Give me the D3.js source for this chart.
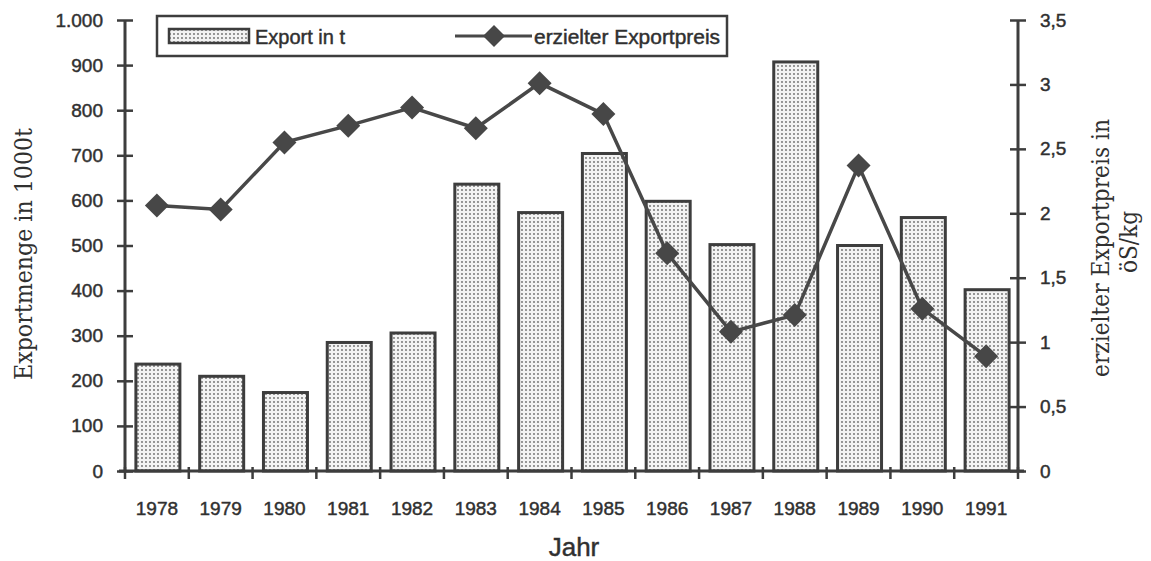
<!DOCTYPE html>
<html><head><meta charset="utf-8">
<script src="https://cdn.jsdelivr.net/npm/d3@7/dist/d3.min.js"></script>
<style>body{margin:0;background:#fff}svg{display:block}</style>
</head><body>
<svg id="c" width="1151" height="561"></svg>
<script>
const years = ["1978","1979","1980","1981","1982","1983","1984","1985","1986","1987","1988","1989","1990","1991"];
const exportMenge = [237, 210, 174, 285, 306, 636, 573, 704, 598, 502, 907, 500, 562, 402];
const exportPreis = [2.06, 2.03, 2.55, 2.68, 2.82, 2.66, 3.01, 2.77, 1.69, 1.08, 1.21, 2.37, 1.26, 0.89];
const leftTicks = [0,100,200,300,400,500,600,700,800,900,1000];
const leftTickLabels = ["0","100","200","300","400","500","600","700","800","900","1.000"];
const rightTicks = [0,0.5,1,1.5,2,2.5,3,3.5];
const rightTickLabels = ["0","0,5","1","1,5","2","2,5","3","3,5"];

const svg = d3.select("#c");
const ink = "#3d3d3d";
const txt = "#303030";
const sans = "Liberation Sans, Arial, sans-serif";
const serif = "DejaVu Serif, serif";
const L = 125, R = 1018, T = 20, B = 471;

const defs = svg.append("defs");
const pat = defs.append("pattern").attr("id","dots").attr("patternUnits","userSpaceOnUse")
  .attr("width",4).attr("height",4);
pat.append("rect").attr("width",4).attr("height",4).attr("fill","#f3f3f3");
pat.append("circle").attr("cx",2).attr("cy",2).attr("r",0.9).attr("fill","#6a6a6a");

const x = d3.scaleBand().domain(years).range([L,R]).padding(0);
const y = d3.scaleLinear().domain([0,1000]).range([B,T]);
const y2 = d3.scaleLinear().domain([0,3.5]).range([B,T]);
const bw = 44;

function styleText(sel, size) {
  sel.attr("font-family",sans).attr("font-size",size).attr("fill",txt)
     .attr("stroke",txt).attr("stroke-width",0.45);
}

// bars
svg.append("g").selectAll("rect").data(years).join("rect")
  .attr("x", (d)=>x(d)+(x.bandwidth()-bw)/2+1)
  .attr("y", (d,i)=>y(exportMenge[i]))
  .attr("width", bw)
  .attr("height", (d,i)=>B - y(exportMenge[i]))
  .attr("fill","url(#dots)").attr("stroke",ink).attr("stroke-width",3);

// left axis
const gl = svg.append("g").attr("transform",`translate(${L},0)`)
  .call(d3.axisLeft(y).tickValues(leftTicks).tickFormat((d,i)=>leftTickLabels[i]).tickSize(8).tickPadding(14));
gl.select(".domain").remove();
gl.append("line").attr("x1",0).attr("x2",0).attr("y1",T).attr("y2",B).attr("stroke",ink).attr("stroke-width",3);
gl.selectAll(".tick line").attr("x1",-8).attr("x2",8).attr("stroke",ink).attr("stroke-width",2.5);
styleText(gl.selectAll(".tick text"), 19);

// right axis
const gr = svg.append("g").attr("transform",`translate(${R},0)`)
  .call(d3.axisRight(y2).tickValues(rightTicks).tickFormat((d,i)=>rightTickLabels[i]).tickSize(8).tickPadding(14));
gr.select(".domain").remove();
gr.append("line").attr("x1",0).attr("x2",0).attr("y1",T).attr("y2",B).attr("stroke",ink).attr("stroke-width",3);
gr.selectAll(".tick line").attr("x1",-8).attr("x2",8).attr("stroke",ink).attr("stroke-width",2.5);
styleText(gr.selectAll(".tick text"), 19);

// x axis
const bounds = years.map(d=>x(d)).concat([R]);
const gx = svg.append("g");
gx.append("line").attr("x1",L-6).attr("x2",R+6).attr("y1",B).attr("y2",B).attr("stroke",ink).attr("stroke-width",3);
gx.selectAll("line.t").data(bounds).join("line").attr("class","t")
  .attr("x1",d=>d).attr("x2",d=>d).attr("y1",B-4).attr("y2",B+8).attr("stroke",ink).attr("stroke-width",2.5);
styleText(gx.selectAll("text").data(years).join("text")
  .attr("x",d=>x(d)+x.bandwidth()/2).attr("y",515).attr("text-anchor","middle").text(d=>d), 19);

// line
const line = d3.line().x((d,i)=>x(years[i])+x.bandwidth()/2).y(d=>y2(d));
svg.append("path").datum(exportPreis).attr("d",line).attr("fill","none").attr("stroke","#484848").attr("stroke-width",3.5);
svg.append("g").selectAll("path").data(exportPreis).join("path")
  .attr("d","M0,-12L12,0L0,12L-12,0Z")
  .attr("transform",(d,i)=>`translate(${x(years[i])+x.bandwidth()/2},${y2(d)})`)
  .attr("fill","#474747");

// legend
const lg = svg.append("g");
lg.append("rect").attr("x",157).attr("y",16).attr("width",570).attr("height",40).attr("fill","#fff").attr("stroke",ink).attr("stroke-width",2.5);
lg.append("rect").attr("x",169).attr("y",29).attr("width",80).attr("height",14).attr("fill","url(#dots)").attr("stroke",ink).attr("stroke-width",2.5);
styleText(lg.append("text").attr("x",255).attr("y",44).text("Export in t"), 20);
lg.append("line").attr("x1",455).attr("x2",532).attr("y1",36).attr("y2",36).attr("stroke","#484848").attr("stroke-width",3);
lg.append("path").attr("d","M0,-11L11,0L0,11L-11,0Z").attr("transform","translate(494,36)").attr("fill","#474747");
styleText(lg.append("text").attr("x",534).attr("y",44).attr("textLength",186).attr("lengthAdjust","spacingAndGlyphs").text("erzielter Exportpreis"), 20);

// axis titles
svg.append("text").attr("transform","translate(32,254) rotate(-90)").attr("text-anchor","middle")
  .attr("font-family",serif).attr("font-size",25).attr("fill",txt)
  .attr("textLength",252).attr("lengthAdjust","spacingAndGlyphs").text("Exportmenge in 1000t");
svg.append("text").attr("transform","translate(1109,248) rotate(-90)").attr("text-anchor","middle")
  .attr("font-family",serif).attr("font-size",25).attr("fill",txt)
  .attr("textLength",258).attr("lengthAdjust","spacingAndGlyphs").text("erzielter Exportpreis in");
svg.append("text").attr("transform","translate(1137,242) rotate(-90)").attr("text-anchor","middle")
  .attr("font-family",serif).attr("font-size",25).attr("fill",txt)
  .attr("textLength",62).attr("lengthAdjust","spacingAndGlyphs").text("öS/kg");
styleText(svg.append("text").attr("x",574).attr("y",556).attr("text-anchor","middle").text("Jahr"), 26);
</script>
</body></html>
